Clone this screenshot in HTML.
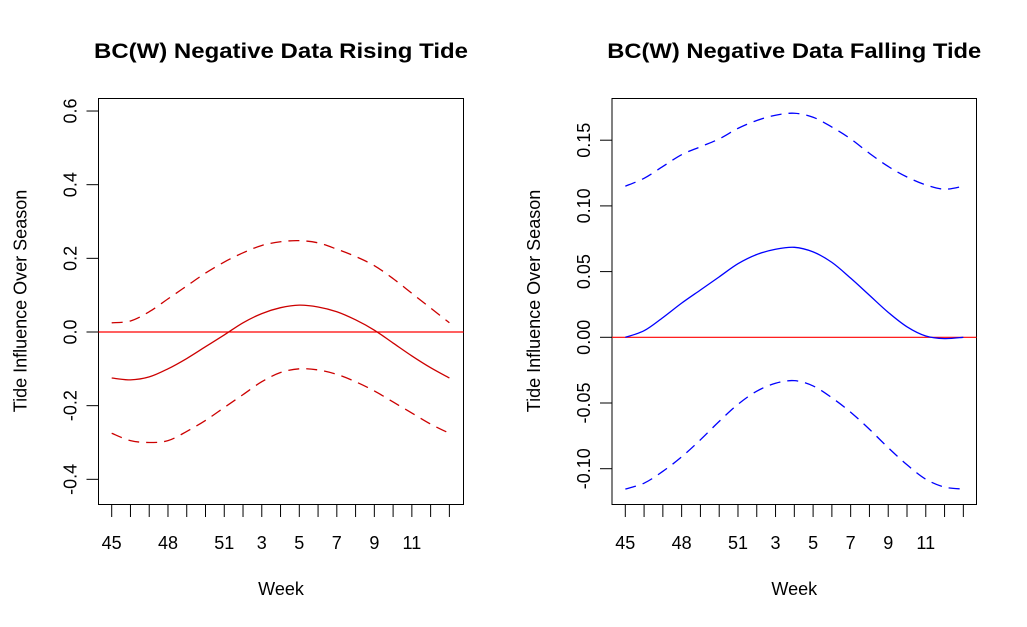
<!DOCTYPE html>
<html><head><meta charset="utf-8"><style>
body{margin:0;background:#fff}
svg{display:block;font-family:"Liberation Sans",Arial,sans-serif}
</style></head><body>
<svg id="chart" width="1027" height="627" viewBox="0 0 1027 627" xmlns="http://www.w3.org/2000/svg"></svg>
<script>
const weekIdx = [0,1,2,3,4,5,6,7,8,9,10,11,12,13,14,15,16,17,18];
const weekLabels = ["45","","","48","","","51","","3","","5","","7","","9","","11","",""];
const risingFit = [-0.125,-0.13,-0.122,-0.10,-0.072,-0.04,-0.008,0.025,0.05,0.066,0.073,0.068,0.055,0.033,0.005,-0.03,-0.065,-0.097,-0.125];
const risingUpper = [0.025,0.03,0.055,0.09,0.125,0.16,0.19,0.215,0.235,0.245,0.248,0.242,0.225,0.205,0.18,0.145,0.105,0.065,0.025];
const risingLower = [-0.275,-0.295,-0.30,-0.295,-0.27,-0.24,-0.205,-0.17,-0.135,-0.11,-0.10,-0.103,-0.115,-0.135,-0.16,-0.19,-0.22,-0.25,-0.275];
const risingTicks = [-0.4,-0.2,0.0,0.2,0.4,0.6];
const risingTickLabels = ["-0.4","-0.2","0.0","0.2","0.4","0.6"];
const fallingFit = [0,0.005,0.015,0.026,0.036,0.046,0.056,0.063,0.067,0.0685,0.065,0.057,0.045,0.032,0.019,0.008,0.001,-0.001,0];
const fallingUpper = [0.115,0.121,0.130,0.139,0.145,0.151,0.159,0.165,0.169,0.1705,0.1675,0.160,0.151,0.140,0.130,0.122,0.116,0.1127,0.115];
const fallingLower = [-0.1155,-0.111,-0.102,-0.091,-0.078,-0.064,-0.051,-0.041,-0.035,-0.033,-0.037,-0.046,-0.057,-0.070,-0.084,-0.097,-0.108,-0.114,-0.1155];
const fallingTicks = [-0.10,-0.05,0.00,0.05,0.10,0.15];
const fallingTickLabels = ["-0.10","-0.05","0.00","0.05","0.10","0.15"];

const NS="http://www.w3.org/2000/svg";
const svg=document.getElementById('chart');
function mk(tag,attrs,parent){const e=document.createElementNS(NS,tag);for(const k in attrs)e.setAttribute(k,attrs[k]);(parent||svg).appendChild(e);return e;}
function smoothPath(xs,ys){
  let d=`M${xs[0]},${ys[0]}`;
  for(let i=0;i<xs.length-1;i++){
    const x0=xs[Math.max(i-1,0)],y0=ys[Math.max(i-1,0)],x1=xs[i],y1=ys[i],x2=xs[i+1],y2=ys[i+1],x3=xs[Math.min(i+2,xs.length-1)],y3=ys[Math.min(i+2,xs.length-1)];
    d+=` C${x1+(x2-x0)/6},${y1+(y2-y0)/6} ${x2-(x3-x1)/6},${y2-(y3-y1)/6} ${x2},${y2}`;
  }
  return d;
}
function panel(cfg){
  const g=mk('g',{});
  
  
  const xS=i=>cfg.x0+i*cfg.dx;
  const yS=v=>cfg.yZero-v*cfg.pxPerUnit;
  const t=mk('text',{x:cfg.boxL+(cfg.boxR-cfg.boxL)/2,y:58,'text-anchor':'middle','font-size':21,'font-weight':'bold',textLength:374,lengthAdjust:'spacingAndGlyphs'},g);
  t.textContent=cfg.title;
  
  
  const box=mk('rect',{x:cfg.boxL,y:98.5,width:cfg.boxR-cfg.boxL,height:406,fill:'none',stroke:'#000','stroke-width':1},g);
  
  
  weekIdx.forEach((w,k)=>{
    const x=xS(w);
    const tk=mk('line',{x1:x,x2:x,y1:505,y2:517,stroke:'#000'},g);
    
    
    if(weekLabels[k]){
      const l=mk('text',{x:x,y:549,'text-anchor':'middle','font-size':18},g);
      l.textContent=weekLabels[k];
      
      
    }
  });
  cfg.ticks.forEach((v,k)=>{
    const y=yS(v);
    const tk=mk('line',{x1:cfg.boxL-12,x2:cfg.boxL,y1:y,y2:y,stroke:'#000'},g);
    
    
    const l=mk('text',{x:0,y:0,'text-anchor':'middle','font-size':18,transform:`translate(${cfg.boxL-22},${y}) rotate(-90)`},g);
    l.textContent=cfg.tickLabels[k];
    
    
  });
  const xl=mk('text',{x:cfg.boxL+(cfg.boxR-cfg.boxL)/2,y:595,'text-anchor':'middle','font-size':18},g);
  xl.textContent='Week';
  
  
  const yl=mk('text',{x:0,y:0,'text-anchor':'middle','font-size':18,transform:`translate(${cfg.boxL-72},301) rotate(-90)`},g);
  yl.textContent='Tide Influence Over Season';
  
  
  const zl=mk('line',{x1:cfg.boxL,x2:cfg.boxR,y1:yS(0),y2:yS(0),stroke:'#ff0000','stroke-width':1.2},g);
  
  
  const xs=weekIdx.map(xS);
  [[cfg.upper,'upper-ci-line',true],[cfg.lower,'lower-ci-line',true],[cfg.fit,'fit-line',false]].forEach(([arr,name,dash])=>{
    const p=mk('path',{d:smoothPath(xs,arr.map(yS)),fill:'none',stroke:cfg.color,'stroke-width':1.3},g);
    if(dash)p.setAttribute('stroke-dasharray','11 7');
    
    
  });
}
panel({name:'rising-tide-panel',title:'BC(W) Negative Data Rising Tide',boxL:98.5,boxR:463.5,x0:111.7,dx:18.76,yZero:332,pxPerUnit:368.3,ticks:risingTicks,tickLabels:risingTickLabels,fit:risingFit,upper:risingUpper,lower:risingLower,color:'#cc0000'});
panel({name:'falling-tide-panel',title:'BC(W) Negative Data Falling Tide',boxL:612,boxR:976.5,x0:625.3,dx:18.78,yZero:337.3,pxPerUnit:1314,ticks:fallingTicks,tickLabels:fallingTickLabels,fit:fallingFit,upper:fallingUpper,lower:fallingLower,color:'#0000ff'});
</script>
</body></html>
